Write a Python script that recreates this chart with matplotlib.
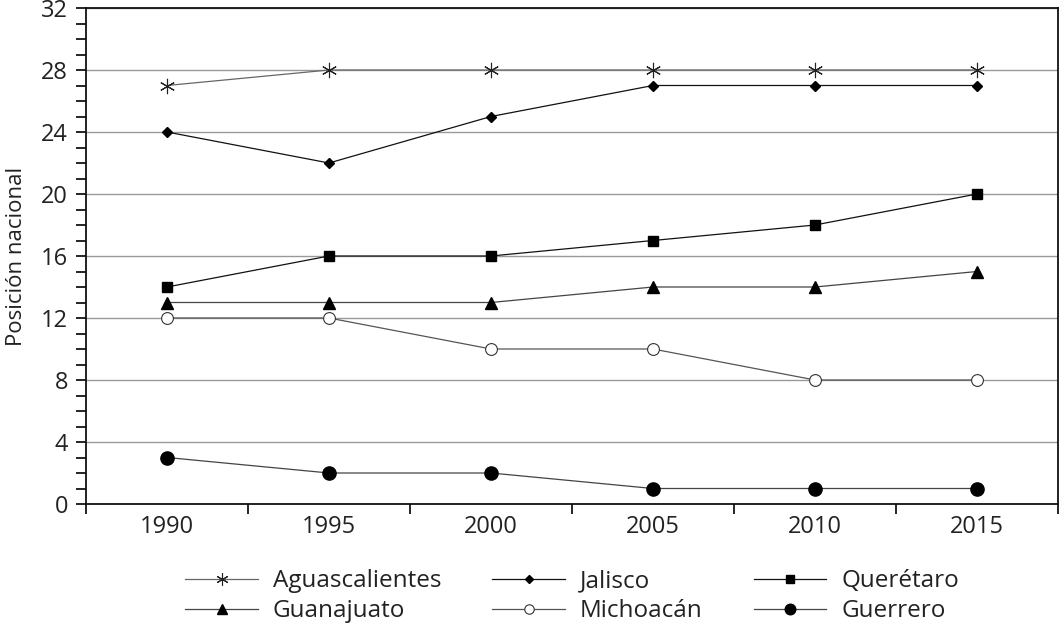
import matplotlib
matplotlib.use("Agg")
import matplotlib.pyplot as plt
from matplotlib.ticker import MultipleLocator, FixedLocator
import numpy as np

plt.rcParams['font.family'] = ['Open Sans', 'DejaVu Sans']

years = ["1990", "1995", "2000", "2005", "2010", "2015"]
aguascalientes = [27, 28, 28, 28, 28, 28]
jalisco = [24, 22, 25, 27, 27, 27]
queretaro = [14, 16, 16, 17, 18, 20]
guanajuato = [13, 13, 13, 14, 14, 15]
michoacan = [12, 12, 10, 10, 8, 8]
guerrero = [3, 2, 2, 1, 1, 1]
y_ticks = [0, 4, 8, 12, 16, 20, 24, 28, 32]

fig = plt.figure(figsize=(10.6, 6.28), dpi=100)
ax = fig.add_axes([86/1060, 1-504/628, (1058-86)/1060, (504-8)/628])

x = np.arange(len(years))
series = [
    ("Aguascalientes", aguascalientes, dict(marker=(6, 2, 0), markersize=11, markeredgewidth=0.8, color="#666666", markerfacecolor="none", markeredgecolor="#222222")),
    ("Jalisco", jalisco, dict(marker="D", markersize=5.5, color="#111111", markerfacecolor="black", markeredgecolor="black")),
    ("Querétaro", queretaro, dict(marker="s", markersize=7.5, color="#111111", markerfacecolor="black", markeredgecolor="black")),
    ("Guanajuato", guanajuato, dict(marker="^", markersize=8.5, color="#444444", markerfacecolor="black", markeredgecolor="black")),
    ("Michoacán", michoacan, dict(marker="o", markersize=8.5, color="#555555", markerfacecolor="white", markeredgecolor="#333333", markeredgewidth=0.8)),
    ("Guerrero", guerrero, dict(marker="o", markersize=9.5, color="#444444", markerfacecolor="black", markeredgecolor="black")),
]
handles = {}
for name, vals, st in series:
    h, = ax.plot(x, vals, label=name, linewidth=0.9, zorder=3, **st)
    handles[name] = h

ax.set_xlim(-0.5, len(years) - 0.5)
ax.set_ylim(0, 32)
ax.set_yticks(y_ticks)
ax.yaxis.set_minor_locator(MultipleLocator(1))
ax.set_xticks(x)
ax.set_xticklabels(years)
ax.xaxis.set_minor_locator(FixedLocator(np.arange(-0.5, len(years), 1.0)))
ax.tick_params(axis='x', which='major', length=0, labelsize=17, pad=8, colors="#222222")
ax.tick_params(axis='x', which='minor', length=7, width=1.2, direction='out')
ax.tick_params(axis='y', which='both', length=7, width=1.2, direction='out', labelsize=17, pad=6, labelcolor="#222222")
ax.grid(axis='y', which='major', color="#999999", linewidth=1.0, zorder=0)
ax.set_axisbelow(True)
for s in ax.spines.values():
    s.set_linewidth(1.3)
    s.set_color("#111111")
ax.set_ylabel("Posición nacional", fontsize=16, color="#222222", labelpad=10)

order = ["Aguascalientes", "Guanajuato", "Jalisco", "Michoacán", "Querétaro", "Guerrero"]
leg = ax.legend([handles[n] for n in order], order, loc="upper center", bbox_to_anchor=(0.5, -0.112),
                ncol=3, frameon=False, fontsize=17.5, handlelength=3.0, handletextpad=0.6,
                columnspacing=2.1, labelspacing=0.25, borderaxespad=0, markerscale=0.8)
for t in leg.get_texts():
    t.set_color("#222222")

fig.savefig("out.png", dpi=100)
